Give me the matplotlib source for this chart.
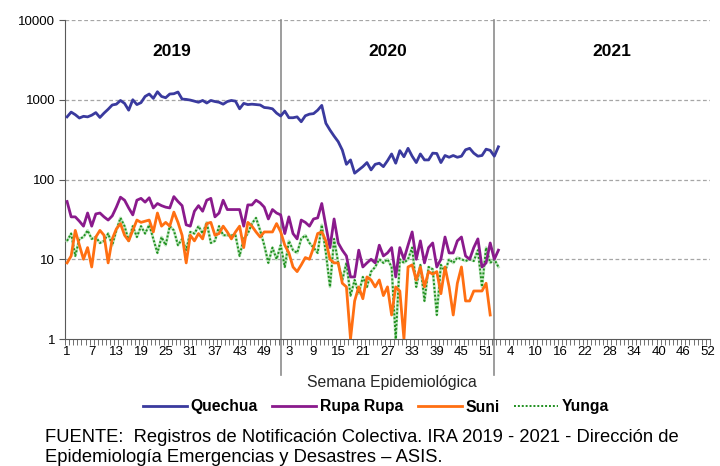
import numpy as np
import matplotlib
matplotlib.use("Agg")
import matplotlib.pyplot as plt
from matplotlib.ticker import FixedLocator, NullFormatter

plt.rcParams['font.family'] = ['Liberation Sans', 'DejaVu Sans']

# epidemiological weeks: 2019 (52), 2020 (53), 2021 (52)
weeks = list(range(1, 53)) + list(range(1, 54)) + list(range(1, 53))
years = ["2019", "2020", "2021"]

# weekly cases, 2019 w1 .. 2021 w1
quechua_2019 = [610, 700, 650, 590, 620, 610, 640, 690, 600, 680, 760, 860, 880, 980, 900,
                740, 1000, 870, 920, 1100, 1180, 1040, 1260, 1100, 1060, 1180, 1190, 1250, 1020, 1010,
                990, 960, 930, 980, 910, 980, 950, 930, 880, 950, 980, 960, 770, 900, 870,
                880, 870, 860, 800, 790, 770, 680]
quechua_2020 = [625, 720, 595, 595, 610, 530, 630, 660, 670, 740, 850, 507, 417, 350, 298,
                234, 155, 176, 120, 132, 145, 163, 132, 155, 160, 145, 172, 209, 160, 230,
                193, 246, 196, 163, 209, 176, 176, 214, 212, 163, 200, 190, 200, 190, 196,
                236, 246, 214, 196, 200, 240, 232, 196]
quechua_2021 = [257]

rupa_2019 = [53, 34, 34, 30, 26, 38, 26, 37, 38, 34, 31, 35, 45, 60, 55, 44, 36, 55, 58, 52,
             59, 44, 50, 47, 45, 44, 61, 53, 47, 27, 26, 40, 47, 40, 55, 58, 34, 38, 55, 42,
             42, 42, 42, 26, 48, 48, 55, 51, 45, 32, 42, 38]
rupa_2020 = [36, 21, 34, 21, 18, 31, 29, 26, 32, 33, 50, 26, 14, 32, 16, 13, 11, 6, 6, 13,
             8, 9, 10, 9, 15, 11, 12, 14, 6, 14, 10, 15, 22, 10, 17, 9, 14, 16, 8, 10,
             19, 12, 12, 17, 19, 11, 10, 14, 18, 8, 9, 16, 10]
rupa_2021 = [13]

suni_2019 = [9, 11, 23, 15, 10, 14, 8, 19, 23, 20, 9, 18, 24, 28, 20, 17, 23, 31, 29, 30,
             31, 22, 38, 26, 29, 26, 39, 29, 20, 9, 20, 17, 21, 18, 28, 29, 20, 21, 26, 22,
             18, 22, 26, 14, 29, 26, 22, 19, 22, 22, 22, 28]
suni_2020 = [22, 15, 12, 8, 7, 8.5, 10.5, 10, 14, 21, 22, 17, 10, 9, 9, 5, 4.5, 1, 3, 4.5,
             3.2, 6, 5.5, 4.5, 5.5, 3.5, 4.5, 2, 4.5, 4, 1, 8, 8.5, 5.5, 8, 4.5, 7, 6.5, 7, 3.7,
             8, 4.5, 2, 5, 8, 3, 3, 4, 4, 4, 5, 2, np.nan]
suni_2021 = [np.nan]

yunga_2019 = [17, 21, 11, 18, 19, 23, 18, 19, 16, 17, 21, 15, 23, 33, 26, 17, 26, 19, 26, 21,
              27, 18, 12, 19, 15, 26, 23, 15, 18, 13, 22, 21, 26, 21, 29, 16, 17, 26, 20, 20,
              20, 20, 11, 18, 21, 28, 33, 23, 15, 9, 14, 10]
yunga_2020 = [15, 8, 17, 13, 12, 18, 20, 16, 14, 12, 27, 12, 4.5, 18, 9, 5.5, 9, 3.5, 5.5, 3.7,
              6, 4.5, 7, 8, 10, 9, 10, 8, 1, 10, 9, 10, 14, 4.5, 8.5, 3, 8, 7.5, 2, 8.5,
              7, 10, 9, 10.5, 10, 9.5, 10, 9.5, 13, 4.5, 14, 9, 10]
yunga_2021 = [8]

quechua = quechua_2019 + quechua_2020 + quechua_2021
rupa = rupa_2019 + rupa_2020 + rupa_2021
suni = suni_2019 + suni_2020 + suni_2021
yunga = yunga_2019 + yunga_2020 + yunga_2021
x = np.arange(len(quechua))

fig = plt.figure(figsize=(7.2, 4.66), dpi=100)
ax = fig.add_axes([65 / 720, 1 - 339 / 466, (710 - 65) / 720, (339 - 20) / 466])

ax.plot(x, quechua, color="#3A3A9E", lw=2, label="Quechua", zorder=4)
ax.plot(x, rupa, color="#8A1A8C", lw=2, label="Rupa Rupa", zorder=4)
ax.plot(x, suni, color="#FF6F12", lw=2, label="Suni", zorder=4)
# Yunga: dotted dark green over a faint green line
ax.plot(x, yunga, color="#BFE5BF", lw=2, zorder=3)
ax.plot(x, yunga, color="#1E8F1E", lw=1.4, ls=(0, (1, 1)), label="Yunga", zorder=3)

ax.set_yscale("log")
ax.set_ylim(1, 10000)
ax.set_xlim(-0.5, len(weeks) - 0.5)

# grid
for v in [10, 100, 1000, 10000]:
    ax.axhline(v, color="#A6A6A6", lw=0.9, ls=(0, (3, 2)), zorder=1)

# year separators
for xv in [52, 104]:
    ax.axvline(xv, ymin=-0.113, ymax=1, color="#8C8C8C", lw=1.2, clip_on=False, zorder=2)

ax.text(25.5, 4000, years[0], ha="center", va="center", fontsize=12.5, fontweight="bold")
ax.text(78, 4000, years[1], ha="center", va="center", fontsize=12.5, fontweight="bold")
ax.text(132.5, 4000, years[2], ha="center", va="center", fontsize=12.5, fontweight="bold")

# axes style
for s in ["top", "right"]:
    ax.spines[s].set_visible(False)
ax.spines["left"].set_color("#595959")
ax.spines["bottom"].set_color("#595959")

ax.yaxis.set_major_locator(FixedLocator([1, 10, 100, 1000, 10000]))
ax.yaxis.set_minor_locator(FixedLocator([]))
ax.set_yticklabels(["1", "10", "100", "1000", "10000"])
ax.tick_params(axis="y", length=4, color="#595959", labelsize=9.5, pad=3)

ticks = list(range(0, len(weeks), 6))
ax.set_xticks(ticks)
ax.set_xticklabels([str(weeks[i]) for i in ticks])
ax.xaxis.set_minor_locator(FixedLocator(np.arange(-0.5, len(weeks), 1)))
ax.xaxis.set_minor_formatter(NullFormatter())
ax.tick_params(axis="x", which="major", length=0, labelsize=9.5, pad=5)
ax.tick_params(axis="x", which="minor", length=4, color="#595959")

fig.text(392 / 720, 1 - 383 / 466, "Semana Epidemiológica", ha="center", va="center",
         fontsize=11.3, color="#262626")

leg = fig.legend(loc="center", bbox_to_anchor=(376 / 720, 1 - 407 / 466), ncol=4,
                 frameon=False, handlelength=2.8, columnspacing=0.9, handletextpad=0.25,
                 prop={"size": 11.3, "weight": "bold"})

fig.text(45 / 720, 1 - 437 / 466,
         "FUENTE:  Registros de Notificación Colectiva. IRA 2019 - 2021 - Dirección de",
         ha="left", va="center", fontsize=13.2)
fig.text(45 / 720, 1 - 457 / 466,
         "Epidemiología Emergencias y Desastres – ASIS.",
         ha="left", va="center", fontsize=13.2)

fig.savefig("out.png", dpi=100)
